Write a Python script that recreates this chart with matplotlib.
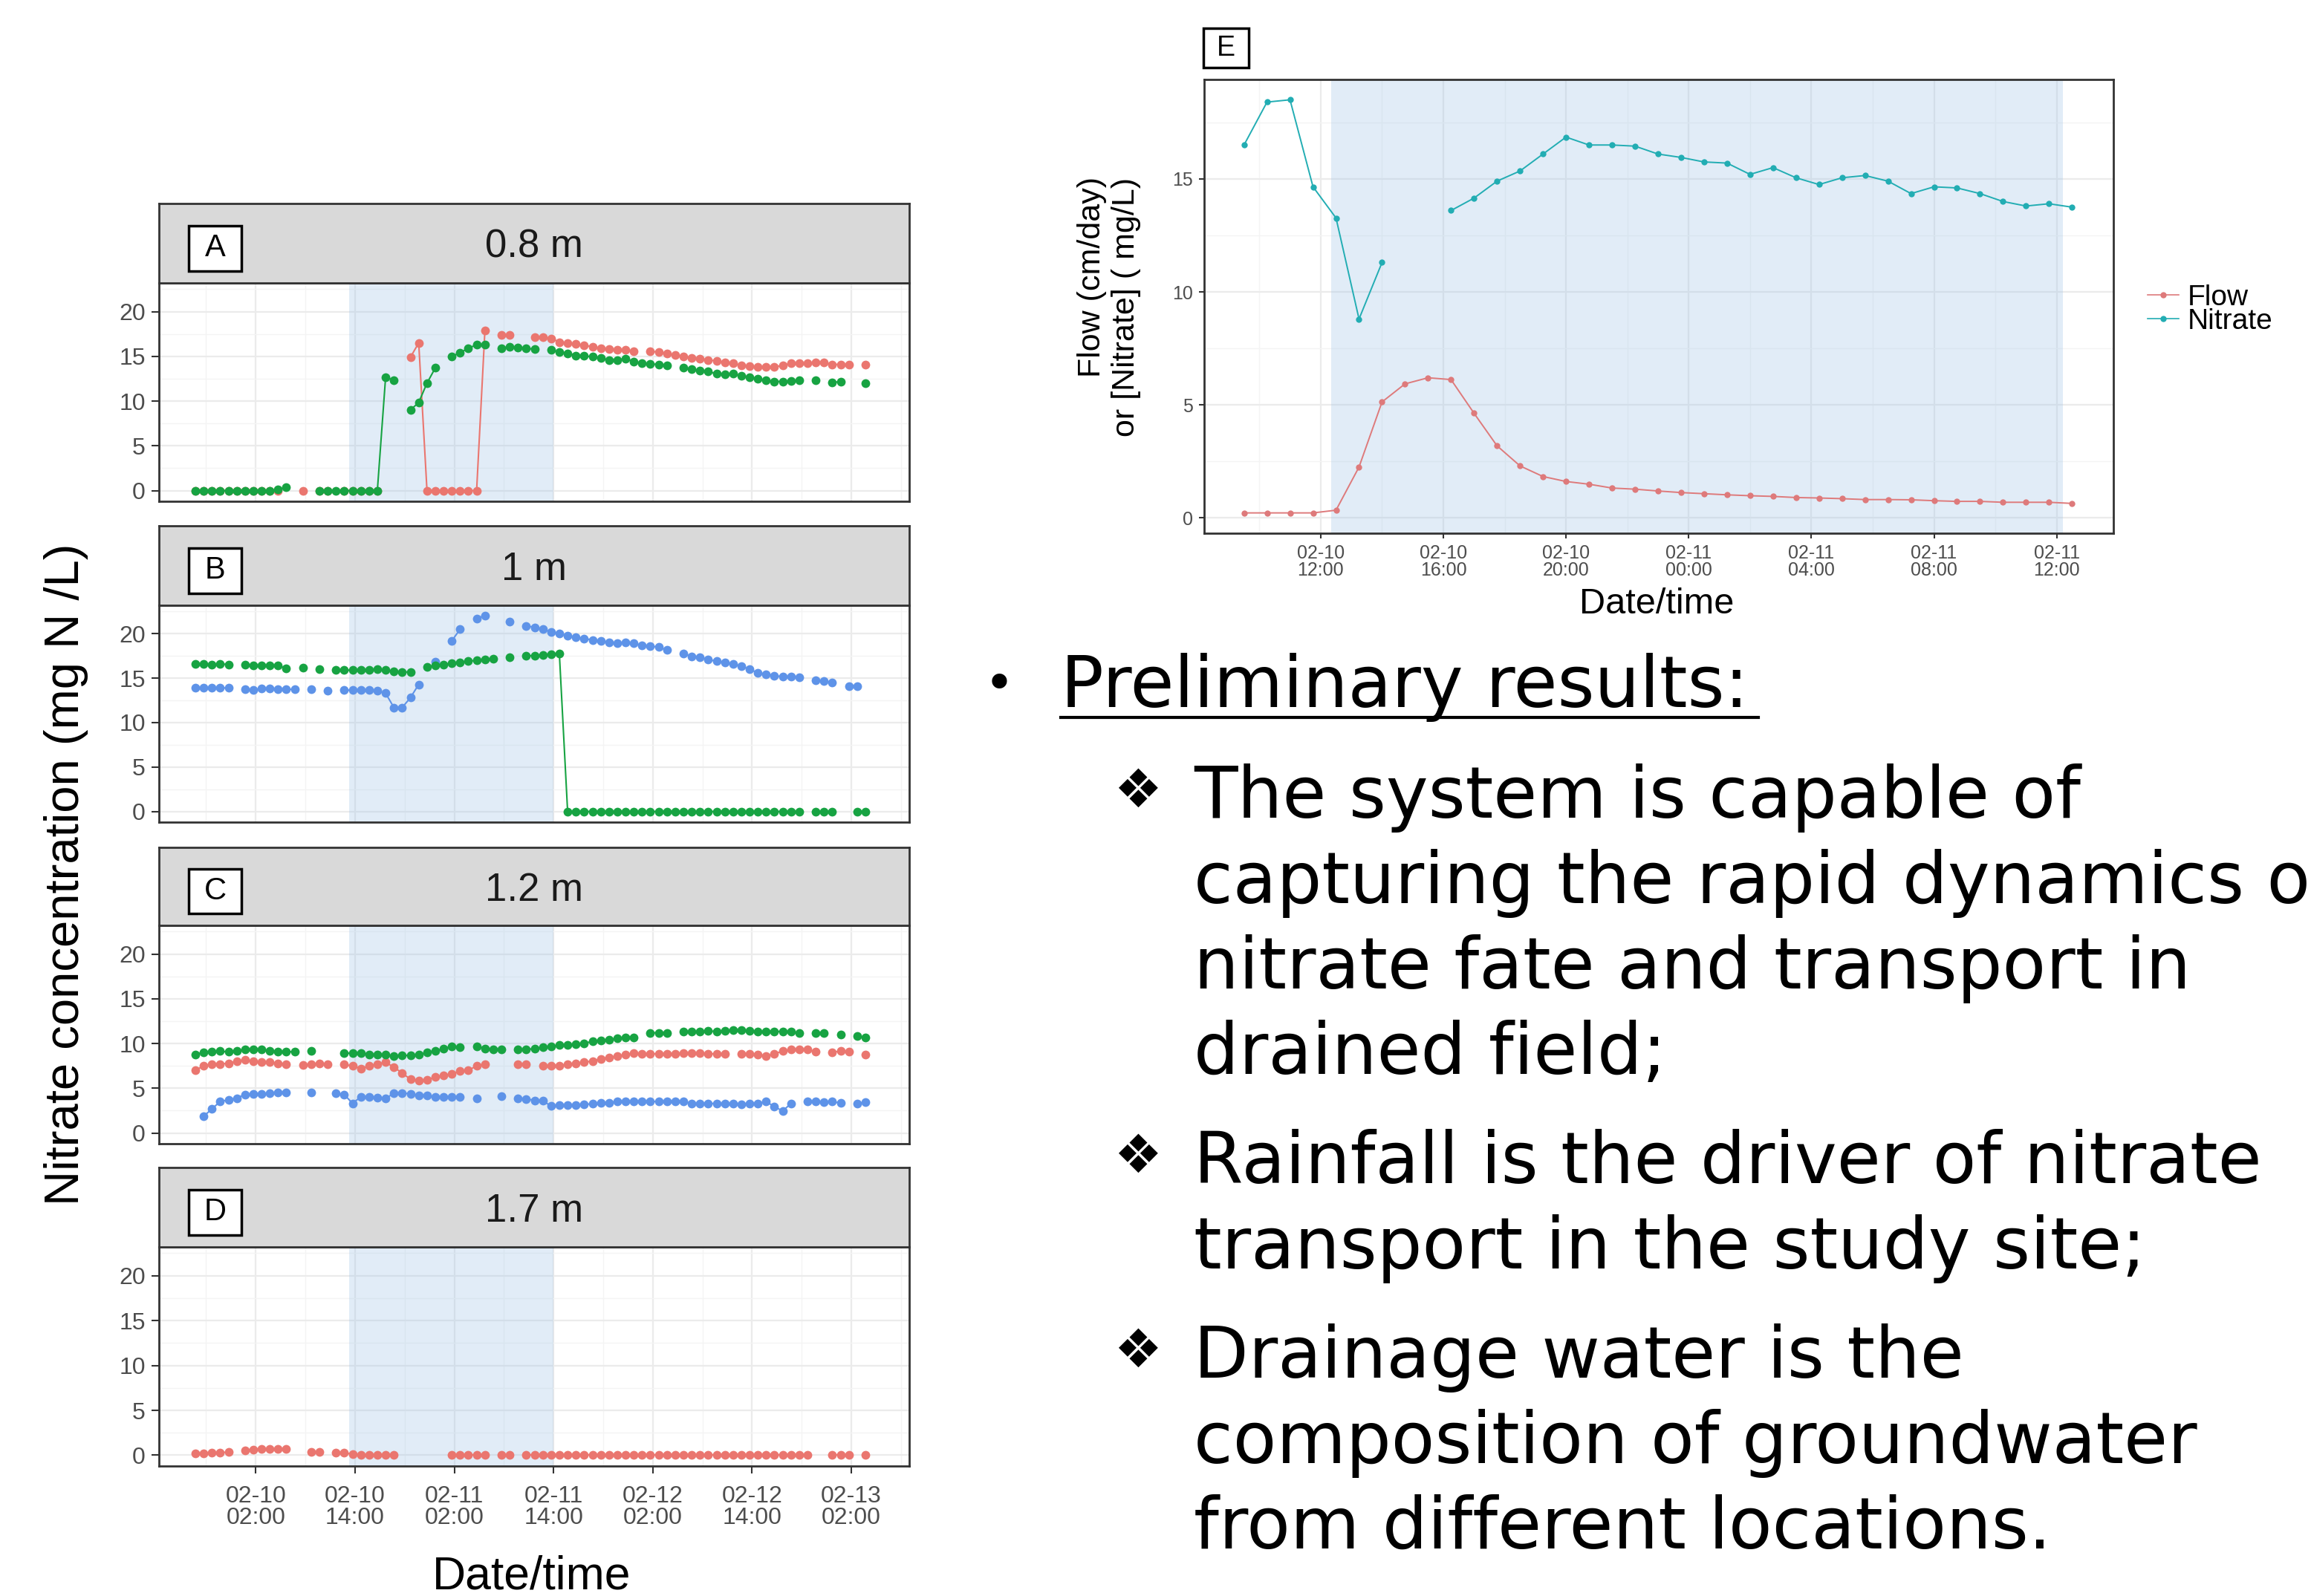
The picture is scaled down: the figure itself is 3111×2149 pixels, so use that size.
import numpy as np
import matplotlib.pyplot as plt
from matplotlib.patches import Rectangle
from matplotlib.lines import Line2D

W, H = 3111, 2149
nan = np.nan

# hourly readings in the four wells, time in hours since 02-10 00:00
hours = np.arange(82) - 5.3

a_red = [0, 0, 0, 0, 0, 0, 0, 0, 0, 0,
         0, nan, nan, 0, nan, 0, 0, nan, 0, 0,
         0, 0, 0, nan, nan, nan, 14.9, 16.5, 0, 0,
         0, 0, 0, 0, 0, 17.85, nan, 17.4, 17.4, nan,
         nan, 17.15, 17.15, 17.0, 16.6, 16.5, 16.4, 16.2, 16.1, 15.9,
         15.85, 15.75, 15.7, 15.6, nan, 15.6, 15.45, 15.3, 15.15, 15.0,
         14.85, 14.75, 14.6, 14.5, 14.35, 14.2, 14.0, 13.9, 13.8, 13.85,
         13.8, 14.0, 14.2, 14.2, 14.2, 14.3, 14.3, 14.1, 14.1, 14.05,
         nan, 14.1]
a_green = [0, 0, 0, 0, 0, 0, 0, 0, 0, 0,
           0.1, 0.4, nan, nan, nan, 0, 0, 0, 0, 0,
           0, 0, 0, 12.7, 12.3, nan, 9.0, 9.85, 12.0, 13.7,
           nan, 15.0, 15.4, 15.9, 16.3, 16.3, nan, 15.9, 16.1, 15.95,
           15.9, 15.8, nan, 15.7, 15.5, 15.35, 15.1, 15.05, 14.95, 14.8,
           14.6, 14.6, 14.75, 14.4, 14.25, 14.15, 14.1, 13.95, nan, 13.7,
           13.55, 13.4, 13.3, 13.05, 13.0, 13.05, 12.8, 12.7, 12.5, 12.3,
           12.2, 12.2, 12.25, 12.3, nan, 12.35, nan, 12.05, 12.2, nan,
           nan, 12.0]

b_blue = [13.9, 13.9, 13.9, 13.9, 13.9, nan, 13.75, 13.7, 13.8, 13.8,
          13.75, 13.75, 13.75, nan, 13.75, nan, 13.6, nan, 13.65, 13.65,
          13.65, 13.65, 13.6, 13.3, 11.7, 11.7, 12.8, 14.3, nan, 16.85,
          nan, 19.2, 20.5, nan, 21.7, 22.05, nan, nan, 21.4, nan,
          20.9, 20.7, 20.5, 20.2, 20.0, 19.8, 19.6, 19.45, 19.3, 19.2,
          19.05, 18.9, 19.0, 18.9, 18.7, 18.6, 18.5, 18.15, nan, 17.75,
          17.45, 17.35, 17.1, 16.9, 16.75, 16.6, 16.35, 16.0, 15.6, 15.45,
          15.3, 15.15, 15.15, 15.1, nan, 14.8, 14.7, 14.5, nan, 14.1,
          14.1, nan]
b_green = [16.6, 16.6, 16.5, 16.6, 16.55, nan, 16.5, 16.4, 16.4, 16.4,
           16.4, 16.1, nan, 16.2, nan, 16.0, nan, 15.9, 15.9, 15.9,
           15.95, 15.95, 16.0, 15.9, 15.8, 15.7, 15.7, nan, 16.3, 16.4,
           16.55, 16.65, 16.8, 16.9, 17.0, 17.1, 17.15, nan, 17.35, nan,
           17.5, 17.55, 17.6, 17.7, 17.8, 0, 0, 0, 0, 0,
           0, 0, 0, 0, 0, 0, 0, 0, 0, 0,
           0, 0, 0, 0, 0, 0, 0, 0, 0, 0,
           0, 0, 0, 0, nan, 0, 0, 0, nan, nan,
           0, 0]

c_red = [7.0, 7.5, 7.7, 7.7, 7.8, 8.0, 8.2, 8.0, 7.95, 7.9,
         7.8, 7.7, nan, 7.6, 7.7, 7.8, 7.65, nan, 7.65, 7.5,
         7.2, 7.5, 7.7, 7.9, 7.35, 6.7, 6.0, 5.85, 5.95, 6.25,
         6.4, 6.6, 6.9, 7.0, 7.5, 7.65, nan, nan, nan, 7.7,
         7.7, nan, 7.5, 7.5, 7.55, 7.65, 7.8, 7.9, 8.05, 8.3,
         8.45, 8.6, 8.75, 8.9, 8.85, 8.85, 8.85, 8.85, 8.85, 8.9,
         8.95, 8.9, 8.85, 8.85, 8.85, nan, 8.85, 8.85, 8.8, 8.6,
         8.85, 9.15, 9.3, 9.35, 9.3, 9.05, nan, 9.0, 9.15, 9.05,
         nan, 8.8]
c_green = [8.8, 9.0, 9.1, 9.15, 9.05, 9.2, 9.3, 9.3, 9.3, 9.2,
           9.1, 9.05, 9.1, nan, 9.15, nan, nan, nan, 8.9, 8.95,
           8.95, 8.8, 8.75, 8.75, 8.6, 8.65, 8.7, 8.75, 9.0, 9.2,
           9.4, 9.7, 9.6, nan, 9.7, 9.45, 9.35, 9.3, nan, 9.35,
           9.3, 9.45, 9.55, 9.7, 9.8, 9.85, 9.9, 10.0, 10.25, 10.35,
           10.45, 10.55, 10.7, 10.7, nan, 11.2, 11.2, 11.2, nan, 11.3,
           11.3, 11.35, 11.4, 11.35, 11.4, 11.5, 11.5, 11.45, 11.3, 11.35,
           11.35, 11.35, 11.3, 11.15, nan, 11.2, 11.2, nan, 11.0, nan,
           10.8, 10.7]
c_blue = [nan, 1.85, 2.7, 3.5, 3.7, 3.9, 4.3, 4.35, 4.4, 4.45,
          4.55, 4.55, nan, nan, 4.55, nan, nan, 4.45, 4.3, 3.3,
          4.05, 4.05, 3.95, 3.85, 4.45, 4.45, 4.4, 4.2, 4.2, 4.05,
          4.05, 4.05, 4.0, nan, 3.9, nan, nan, 4.1, nan, 3.9,
          3.8, 3.65, 3.6, 3.0, 3.1, 3.1, 3.1, 3.2, 3.25, 3.35,
          3.4, 3.5, 3.5, 3.5, 3.55, 3.55, 3.5, 3.55, 3.5, 3.5,
          3.3, 3.3, 3.3, 3.3, 3.25, 3.25, 3.2, 3.3, 3.3, 3.5,
          2.95, 2.45, 3.3, nan, 3.5, 3.5, 3.45, 3.5, 3.35, nan,
          3.25, 3.45]

d_red = [0.2, 0.2, 0.25, 0.3, 0.35, nan, 0.55, 0.65, 0.7, 0.7,
         0.7, 0.7, nan, nan, 0.35, 0.35, nan, 0.3, 0.3, 0.1,
         0.05, 0.05, 0.05, 0.05, 0.05, nan, nan, nan, nan, nan,
         nan, 0.05, 0.05, 0.05, 0.05, 0.05, nan, 0.05, 0.05, nan,
         0.05, 0.05, 0.05, 0.05, 0.05, 0.05, 0.05, 0.05, 0.05, 0.05,
         0.05, 0.05, 0.05, 0.05, 0.05, 0.05, 0.05, 0.05, 0.05, 0.05,
         0.05, 0.05, 0.05, 0.05, 0.05, 0.05, 0.05, 0.05, 0.05, 0.05,
         0.05, 0.05, 0.05, 0.05, 0.05, nan, nan, 0.05, 0.05, 0.05,
         nan, 0.05]

# panel E: drain outlet, one reading about every 45 minutes
e_hours = 9.5 + 0.75 * np.arange(37)
e_flow = [0.22, 0.22, 0.22, 0.22, 0.34, 2.25, 5.13, 5.93, 6.2, 6.12,
          4.63, 3.19, 2.3, 1.83, 1.61, 1.49, 1.32, 1.27, 1.19, 1.12,
          1.07, 1.02, 0.98, 0.95, 0.9, 0.88, 0.85, 0.81, 0.81, 0.8,
          0.76, 0.73, 0.73, 0.69, 0.69, 0.69, 0.64]
e_nitrate = [16.5, 18.4, 18.5, 14.65, 13.27, 8.8, 11.3, nan, nan, 13.6,
             14.15, 14.9, 15.35, 16.1, 16.85, 16.5, 16.5, 16.45, 16.1, 15.95,
             15.75, 15.7, 15.2, 15.5, 15.05, 14.75, 15.05, 15.15, 14.9, 14.35,
             14.65, 14.6, 14.35, 14.0, 13.8, 13.9, 13.75]

tick_hours = [2, 14, 26, 38, 50, 62, 74]
tick_labels = ['02-10\n02:00', '02-10\n14:00', '02-11\n02:00', '02-11\n14:00',
               '02-12\n02:00', '02-12\n14:00', '02-13\n02:00']
e_tick_hours = [12, 16, 20, 24, 28, 32, 36]
e_tick_labels = ['02-10\n12:00', '02-10\n16:00', '02-10\n20:00', '02-11\n00:00',
                 '02-11\n04:00', '02-11\n08:00', '02-11\n12:00']
rain = (13.3, 38.0)
e_rain = (12.34, 36.2)

bullet_points = [
    ['The system is capable of', 'capturing the rapid dynamics of',
     'nitrate fate and transport in', 'drained field;'],
    ['Rainfall is the driver of nitrate', 'transport in the study site;'],
    ['Drainage water is the', 'composition of groundwater',
     'from different locations.'],
]

RED, GREEN, BLUE = '#EA766F', '#17A342', '#5E93E8'
FLOW, NITRATE = '#DE7A7B', '#22ADB3'
SHADE = '#9DC3E6'

plt.rcParams['font.family'] = ['Liberation Sans', 'DejaVu Sans']
fig = plt.figure(figsize=(W / 100, H / 100), dpi=100)


def fig_box(x0, y0, x1, y1):
    return [x0 / W, 1 - y1 / H, (x1 - x0) / W, (y1 - y0) / H]


def style_axes(ax, size):
    ax.set_axisbelow(True)
    ax.grid(True, which='major', color='#EBEBEB', lw=1.6)
    ax.grid(True, which='minor', color='#F4F4F4', lw=1.0)
    ax.tick_params(which='minor', length=0)
    ax.tick_params(which='major', length=7, width=1.5, color='#333333',
                   labelsize=size, labelcolor='#4D4D4D', pad=6)
    for sp in ax.spines.values():
        sp.set_color('#333333')
        sp.set_linewidth(2)


panels = [
    ('A', '0.8 m', (274, 381, 675), [(a_red, RED), (a_green, GREEN)]),
    ('B', '1 m', (708, 815, 1107), [(b_blue, BLUE), (b_green, GREEN)]),
    ('C', '1.2 m', (1141, 1246, 1540), [(c_red, RED), (c_blue, BLUE), (c_green, GREEN)]),
    ('D', '1.7 m', (1572, 1679, 1974), [(d_red, RED)]),
]

for letter, title, (top, mid, bottom), series in panels:
    ax = fig.add_axes(fig_box(214, mid, 1224, bottom))
    ax.axvspan(*rain, color=SHADE, alpha=0.3, lw=0, zorder=1)
    for vals, c in series:
        ax.plot(hours, vals, color=c, lw=1.5, marker='o', ms=8.5, mew=0, zorder=3)
    ax.set_xlim(-9.7, 81.0)
    ax.set_ylim(-1.2, 23.2)
    ax.set_yticks([0, 5, 10, 15, 20])
    ax.set_yticks([2.5, 7.5, 12.5, 17.5, 22.5], minor=True)
    ax.set_xticks(tick_hours)
    ax.set_xticks([-4, 8, 20, 32, 44, 56, 68, 80], minor=True)
    style_axes(ax, 23)
    if letter == 'D':
        ax.set_xticklabels(tick_labels)
        ax.tick_params(axis='x', pad=12)
        for lbl in ax.get_xticklabels():
            lbl.set_linespacing(0.95)
    else:
        ax.tick_params(axis='x', length=0, labelbottom=False)

    st = fig.add_axes(fig_box(214, top, 1224, mid))
    st.set_facecolor('#D9D9D9')
    st.set_xticks([])
    st.set_yticks([])
    for sp in st.spines.values():
        sp.set_color('#333333')
        sp.set_linewidth(2)
    st.text(0.5, 0.45, title, ha='center', va='center', fontsize=38, color='#1A1A1A',
            transform=st.transAxes)
    st.add_patch(Rectangle((0.0396, 0.15), 0.0703, 0.57, transform=st.transAxes,
                           facecolor='white', edgecolor='black', lw=2.5))
    st.text(0.0748, 0.435, letter, ha='center', va='center', fontsize=30,
            transform=st.transAxes)

fig.text(89 / W, 1 - 1177 / H, 'Nitrate concentration (mg N /L)', rotation=90,
         ha='center', va='center', fontsize=47)
fig.text(716 / W, 1 - 2123 / H, 'Date/time', ha='center', va='center', fontsize=45)

# panel E
ax = fig.add_axes(fig_box(1621, 107, 2845, 718))
ax.axvspan(*e_rain, color=SHADE, alpha=0.3, lw=0, zorder=1)
ax.plot(e_hours, e_flow, color=FLOW, lw=1.4, marker='o', ms=6, mew=0, zorder=3)
ax.plot(e_hours, e_nitrate, color=NITRATE, lw=1.4, marker='o', ms=6, mew=0, zorder=3)
ax.set_xlim(8.2, 37.85)
ax.set_ylim(-0.68, 19.4)
ax.set_yticks([0, 5, 10, 15])
ax.set_yticks([2.5, 7.5, 12.5, 17.5], minor=True)
ax.set_xticks(e_tick_hours)
ax.set_xticks([10, 14, 18, 22, 26, 30, 34], minor=True)
ax.set_xticklabels(e_tick_labels)
style_axes(ax, 18)
ax.tick_params(which='major', length=5)
for lbl in ax.get_xticklabels():
    lbl.set_linespacing(0.95)

fig.text(2230 / W, 1 - 813 / H, 'Date/time', ha='center', va='center', fontsize=35)
fig.text(1493 / W, 1 - 413 / H, 'Flow (cm/day)\nor [Nitrate] ( mg/L)', rotation=90,
         ha='center', va='center', fontsize=31, multialignment='right', linespacing=1.2)
fig.add_artist(Rectangle((1620 / W, 1 - 91 / H), 61 / W, 53 / H, transform=fig.transFigure,
                         facecolor='white', edgecolor='black', lw=2.5))
fig.text(1650.5 / W, 1 - 65 / H, 'E', ha='center', va='center', fontsize=27)

handles = [Line2D([], [], color=FLOW, marker='o', ms=5, lw=1.2),
           Line2D([], [], color=NITRATE, marker='o', ms=5, lw=1.2)]
fig.legend(handles, ['Flow', 'Nitrate'], loc='center left',
           bbox_to_anchor=(2875 / W, 1 - 417 / H), frameon=False, fontsize=28,
           handlelength=1.1, handletextpad=0.3, labelspacing=-0.1, borderaxespad=0)

# bullet text on the right
fig.text(1345 / W, 1 - 923 / H, '\u2022', ha='center', va='center', fontsize=50,
         family='DejaVu Sans')
fig.text(1428 / W, 1 - 952 / H, 'Preliminary results:', ha='left', va='baseline',
         fontsize=69, family='DejaVu Sans')
fig.add_artist(Line2D([1428 / W, 2367 / W], [1 - 966 / H] * 2, transform=fig.transFigure,
                      color='black', lw=3))

baselines = [[1101, 1216, 1331, 1446], [1593, 1708], [1855, 1970, 2085]]
for lines, ys in zip(bullet_points, baselines):
    fig.text(1532 / W, 1 - (ys[0] - 34) / H, '\u2756', ha='center', va='center',
             fontsize=52, family='DejaVu Sans')
    for line, y in zip(lines, ys):
        fig.text(1607 / W, 1 - y / H, line, ha='left', va='baseline', fontsize=69,
                 family='DejaVu Sans')

fig.savefig('out.png', dpi=100, facecolor='white')
